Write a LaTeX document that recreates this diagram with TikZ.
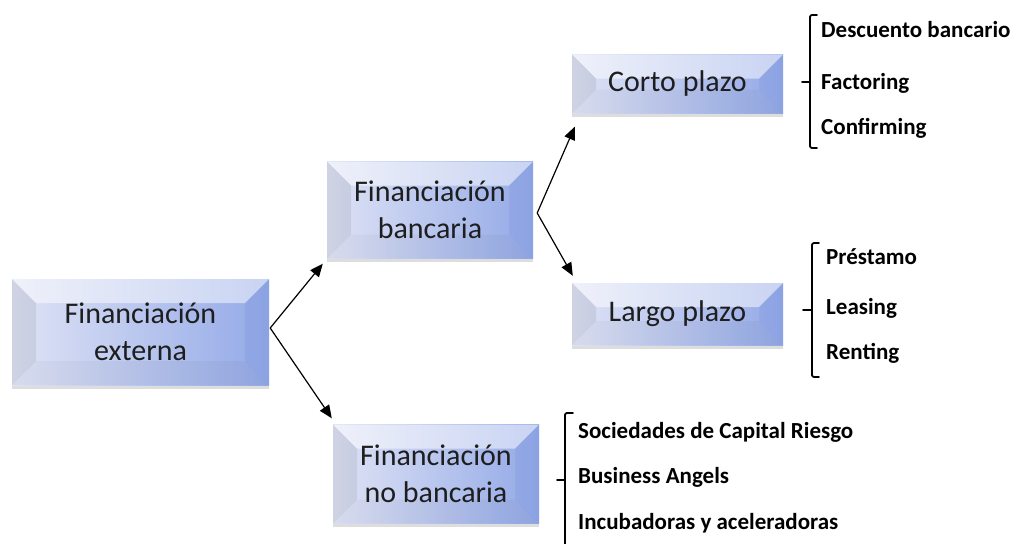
\documentclass[tikz,border=0pt]{standalone}
\usepackage{fontspec}
\setmainfont{Carlito}
\usetikzlibrary{arrows.meta,shadows}
\definecolor{faceL}{HTML}{DFE3F5}
\definecolor{faceR}{HTML}{93A9E7}
\definecolor{rightF}{HTML}{7089D6}
\definecolor{txt}{HTML}{1E1E1E}
\newcommand{\bvd}{24}
\tikzset{
  bevbox/.style={rectangle, inner sep=0pt, align=center, text=txt,
    font=\fontsize{30}{37}\selectfont,
    left color=faceL, right color=faceR, draw=none,
    drop shadow={shadow xshift=0pt, shadow yshift=-3.5pt, opacity=0.22, fill=black!60},
    path picture={
      \coordinate (pnw) at (path picture bounding box.north west);
      \coordinate (pne) at (path picture bounding box.north east);
      \coordinate (psw) at (path picture bounding box.south west);
      \coordinate (pse) at (path picture bounding box.south east);
      \fill[white, opacity=0.5] (pnw) -- (pne) -- ([shift={(-\bvd,\bvd)}]pne) -- ([shift={(\bvd,\bvd)}]pnw) -- cycle;
      \fill[black, opacity=0.07] (pnw) -- ([shift={(\bvd,\bvd)}]pnw) -- ([shift={(\bvd,-\bvd)}]psw) -- (psw) -- cycle;
      \fill[rightF, opacity=0.2] (pne) -- ([shift={(-\bvd,\bvd)}]pne) -- ([shift={(-\bvd,-\bvd)}]pse) -- (pse) -- cycle;
      \fill[black, opacity=0.03] (psw) -- ([shift={(\bvd,-\bvd)}]psw) -- ([shift={(-\bvd,-\bvd)}]pse) -- (pse) -- cycle;
    }},
  arr/.style={line width=1.2pt, draw=black, -{Triangle[length=13pt,width=11pt]}},
  brk/.style={line width=1.8pt, line cap=round, line join=round, rounded corners=2pt},
  item/.style={anchor=base west, inner sep=0pt, font=\fontsize{23}{26}\selectfont\bfseries, text=black}
}
\begin{document}
\begin{tikzpicture}[x=1pt, y=-1pt]
\useasboundingbox (0,0) rectangle (1019,543);

\node[bevbox, minimum width=257pt, minimum height=106pt] (ext) at (140.5,332) {Financiación\\externa};
\node[bevbox, minimum width=206pt, minimum height=97pt] (banc) at (430,210) {Financiación\\bancaria};
\node[bevbox, minimum width=206pt, minimum height=99pt] (nobanc) at (436,474) {Financiación\\no bancaria};
\node[bevbox, minimum width=211pt, minimum height=59pt] (corto) at (677.5,84) {Corto plazo};
\node[bevbox, minimum width=211pt, minimum height=62pt] (largo) at (677.5,314) {Largo plazo};

\draw[arr] ([shift={(1,-4)}]ext.east) -- ([shift={(-4,5)}]banc.south west);
\draw[arr] ([shift={(1,-4)}]ext.east) -- ([shift={(-1,-6)}]nobanc.north west);
\draw[arr] ([shift={(4,3)}]banc.east) -- ([shift={(3,13)}]corto.south west);
\draw[arr] ([shift={(4,3)}]banc.east) -- ([shift={(1,-7)}]largo.north west);

\node[item] (c1) at (821,37.5) {Descuento bancario};
\node[item] (c2) at (821,89.5) {Factoring};
\node[item] (c3) at (821,134.5) {Confirming};
\node[item] (l1) at (826,264.5) {Préstamo};
\node[item] (l2) at (826,314.5) {Leasing};
\node[item] (l3) at (826,359.5) {Renting};
\node[item] (n1) at (578,438.5) {Sociedades de Capital Riesgo};
\node[item] (n2) at (578,483.5) {Business Angels};
\node[item] (n3) at (578,529.5) {Incubadoras y aceleradoras};

\draw[brk] (817,15) -- (810,15) -- (810,148) -- (817,148);
\draw[brk, rounded corners=0pt] (802,82) -- (810,82);
\draw[brk] (819,243) -- (812,243) -- (812,377) -- (819,377);
\draw[brk, rounded corners=0pt] (803,310) -- (812,310);
\draw[brk] (573,413) -- (565,413) -- (565,550);
\draw[brk, rounded corners=0pt] (557,480) -- (565,480);
\end{tikzpicture}
\end{document}
